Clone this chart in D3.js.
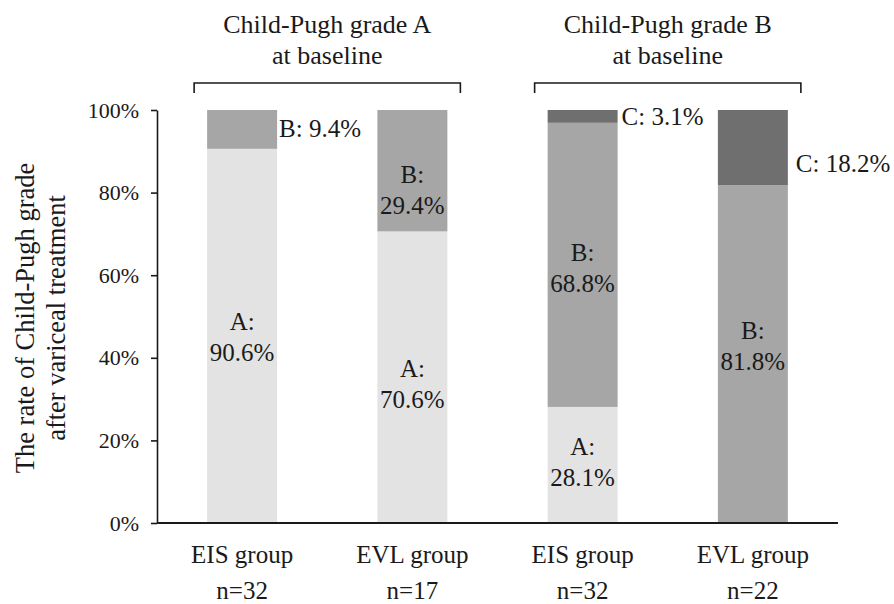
<!DOCTYPE html>
<html>
<head>
<meta charset="utf-8">
<script src="https://cdn.jsdelivr.net/npm/d3@7"></script>
<style>
  body { margin: 0; background: #fff; }
  svg text { font-family: "Liberation Serif", "Times New Roman", serif; fill: #1a1a1a; }
</style>
</head>
<body>
<svg id="chart" width="894" height="604"></svg>
<script>
// data
const groups   = ["EIS group", "EVL group", "EIS group", "EVL group"];
const sizes    = ["n=32", "n=17", "n=32", "n=22"];
const gradeA   = [90.6, 70.6, 28.1, 0];
const gradeB   = [9.4, 29.4, 68.8, 81.8];
const gradeC   = [0, 0, 3.1, 18.2];
const grades   = ["A", "B", "C"];
const panelTitles = [["Child-Pugh grade A", "at baseline"], ["Child-Pugh grade B", "at baseline"]];
const panelBars   = [[0, 1], [2, 3]];
const yTicks   = [0, 20, 40, 60, 80, 100];
const yTitle   = ["The rate of Child-Pugh grade", "after variceal treatment"];

const colors = { A: "#e3e3e3", B: "#a6a6a6", C: "#6f6f6f" };

const width = 894, height = 604;
const margin = { top: 110, right: 56, bottom: 81, left: 157 };
const svg = d3.select("#chart");

const x = d3.scaleBand()
    .domain(d3.range(groups.length))
    .range([margin.left, width - margin.right])
    .paddingInner(0.589)
    .paddingOuter(0.2945);

const y = d3.scaleLinear()
    .domain([0, 100])
    .range([height - margin.bottom, margin.top]);

// stacked bars
const rows = groups.map((g, i) => ({ i, A: gradeA[i], B: gradeB[i], C: gradeC[i] }));
const series = d3.stack().keys(grades)(rows);

svg.append("g").selectAll("g")
    .data(series)
    .join("g")
    .attr("fill", d => colors[d.key])
    .selectAll("rect")
    .data(d => d.filter(s => s[1] - s[0] > 0))
    .join("rect")
    .attr("x", d => x(d.data.i))
    .attr("width", x.bandwidth())
    .attr("y", d => y(d[1]))
    .attr("height", d => y(d[0]) - y(d[1]));

// y axis
const yAxis = svg.append("g")
    .attr("transform", `translate(${margin.left},0)`)
    .call(d3.axisLeft(y).tickValues(yTicks).tickFormat(d => d + "%").tickSize(6).tickSizeOuter(0).tickPadding(12));
yAxis.selectAll("text").style("font-size", "22px");
yAxis.selectAll("line, path").attr("stroke", "#1a1a1a").attr("stroke-width", 1.6);

// x axis baseline
svg.append("line")
    .attr("x1", margin.left).attr("x2", width - margin.right)
    .attr("y1", y(0)).attr("y2", y(0))
    .attr("stroke", "#1a1a1a").attr("stroke-width", 2);

// category labels
const cat = svg.append("g").attr("text-anchor", "middle").style("font-size", "25px");
cat.selectAll(".grp").data(groups).join("text")
    .attr("x", (d, i) => x(i) + x.bandwidth() / 2)
    .attr("y", 563)
    .text(d => d);
cat.selectAll(".n").data(sizes).join("text")
    .attr("x", (d, i) => x(i) + x.bandwidth() / 2)
    .attr("y", 599)
    .text(d => d);

// panel titles and brackets
panelTitles.forEach((t, p) => {
    const b = panelBars[p];
    const x0 = x(b[0]) + x.bandwidth() / 2 - 48;
    const x1 = x(b[1]) + x.bandwidth() / 2 + 48;
    svg.append("path")
        .attr("d", `M${x0},93V83H${x1}V93`)
        .attr("fill", "none").attr("stroke", "#1a1a1a").attr("stroke-width", 1.6);
    const tt = svg.append("text").attr("text-anchor", "middle").style("font-size", "26px");
    t.forEach((line, k) => {
        tt.append("tspan").attr("x", (x0 + x1) / 2).attr("y", 33 + k * 31).text(line);
    });
});

// segment labels: [bar, grade, label centre in %, placement, gap]
const labelSpots = [
    [0, "A", 45.0, "in"], [0, "B", 95.5, "side", 2],
    [1, "A", 33.8, "in"], [1, "B", 80.6, "in"],
    [2, "A", 14.8, "in"], [2, "B", 61.8, "in"], [2, "C", 98.5, "side", 4],
    [3, "B", 43.0, "in"], [3, "C", 87.2, "side", 8]
];
const valueOf = { A: gradeA, B: gradeB, C: gradeC };
const lab = svg.append("g").style("font-size", "25px");
labelSpots.forEach(([i, g, at, where, gap]) => {
    const v = valueOf[g][i].toFixed(1) + "%";
    if (where === "side") {
        lab.append("text")
            .attr("x", x(i) + x.bandwidth() + gap)
            .attr("y", y(at))
            .attr("dy", "0.35em")
            .text(`${g}: ${v}`);
    } else {
        const t = lab.append("text").attr("text-anchor", "middle");
        const cx = x(i) + x.bandwidth() / 2;
        t.append("tspan").attr("x", cx).attr("y", y(at) - 15.5).attr("dy", "0.35em").text(g + ":");
        t.append("tspan").attr("x", cx).attr("y", y(at) + 15.5).attr("dy", "0.35em").text(v);
    }
});

// y title
const yt = svg.append("text")
    .attr("transform", `translate(0,318) rotate(-90)`)
    .attr("text-anchor", "middle")
    .style("font-size", "26.5px");
yTitle.forEach((line, k) => {
    yt.append("tspan").attr("x", 0).attr("y", 34 + k * 31).text(line);
});
</script>
</body>
</html>
